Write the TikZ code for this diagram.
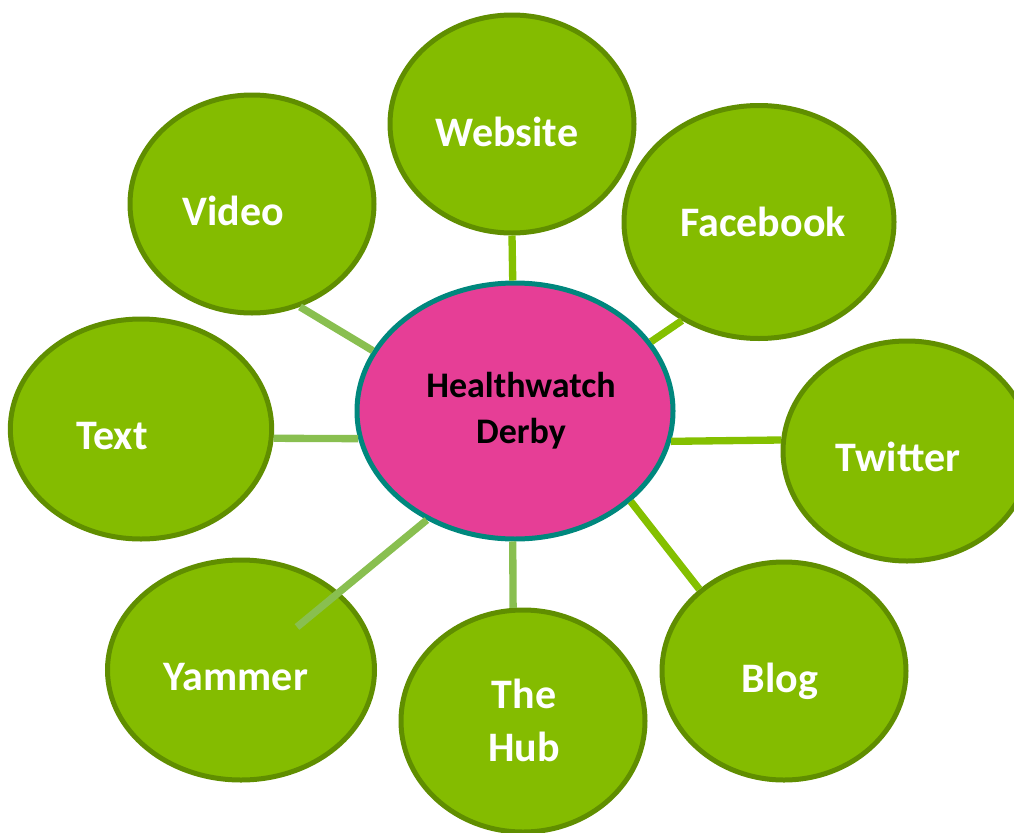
\documentclass[tikz,border=0pt]{standalone}
\usepackage{fontspec}
\setmainfont{Carlito}
\usetikzlibrary{shapes.geometric}

\definecolor{bubblegreen}{RGB}{132,188,0}
\definecolor{bubbleedge}{RGB}{96,142,0}
\definecolor{linkbright}{RGB}{132,192,0}
\definecolor{linksoft}{RGB}{137,191,80}
\definecolor{hubpink}{RGB}{230,62,150}
\definecolor{hubedge}{RGB}{0,135,125}

\begin{document}
\begin{tikzpicture}[
          x=0.75pt, y=-0.75pt,
          bubble/.style = {ellipse, draw=bubbleedge, fill=bubblegreen, line width=3.75pt, inner sep=0pt},
          word/.style = {text=white, font=\fontsize{31.5}{39.75}\selectfont\bfseries, align=center, anchor=base, inner sep=0pt},
          link/.style = {draw=linkbright, line width=5.5pt},
          softlink/.style = {draw=linksoft, line width=5.5pt}
        ]
        \useasboundingbox (0,0) rectangle (1014,832);
        \clip (0,0) rectangle (1014,832);

        \node[bubble, minimum width=183pt, minimum height=163.5pt] (website) at (512,124) {};
        \node[bubble, minimum width=202.5pt, minimum height=174.75pt] (facebook) at (759,222) {};
        \node[bubble, minimum width=186pt, minimum height=165pt] (twitter) at (907,451) {};
        \node[bubble, minimum width=183pt, minimum height=163.5pt] (blog) at (784,671) {};
        \node[bubble, minimum width=183pt, minimum height=166.5pt] (hub) at (523,721) {};
        \node[bubble, minimum width=200.25pt, minimum height=165pt] (yammer) at (241,670) {};
        \node[bubble, minimum width=196pt, minimum height=165pt] (texting) at (141,429) {};
        \node[bubble, minimum width=183pt, minimum height=163.5pt] (video) at (252,204) {};

        \node[ellipse, draw=hubedge, fill=hubpink, line width=3.75pt, minimum width=237pt, minimum height=192pt] (healthwatch) at (515,411) {};

        \coordinate (yammertip) at (297,627);

        \draw[link] (healthwatch.91) -- (website.-90);
        \draw[link] (healthwatch.27) -- (facebook.-128);
        \draw[link] (healthwatch.-11) -- (twitter.175);
        \draw[link] (healthwatch.-38) -- (blog.136);
        \draw[softlink] (healthwatch.-91) -- (hub.95);
        \draw[softlink] (healthwatch.-129) -- (yammertip);
        \draw[softlink] (healthwatch.-170) -- (texting.-4);
        \draw[softlink] (healthwatch.157) -- (video.-65);

        \node[word] (websitetext) at (507,146) {Website};
        \node[word] (facebooktext) at (763,236) {Facebook};
        \node[word] (twittertext) at (898,471) {Twitter};
        \node[word] (blogtext) at (780,692) {Blog};
        \node[word] (hubtext) at (524,761) {The\\Hub};
        \node[word] (yammertext) at (236,690) {Yammer};
        \node[word] (textingtext) at (112,449) {Text};
        \node[word] (videotext) at (233,225) {Video};
        \node[word, text=black, font=\fontsize{27}{34.5}\selectfont\bfseries] (healthwatchtext) at (521,443) {Healthwatch\\Derby};
      \end{tikzpicture}
\end{document}
